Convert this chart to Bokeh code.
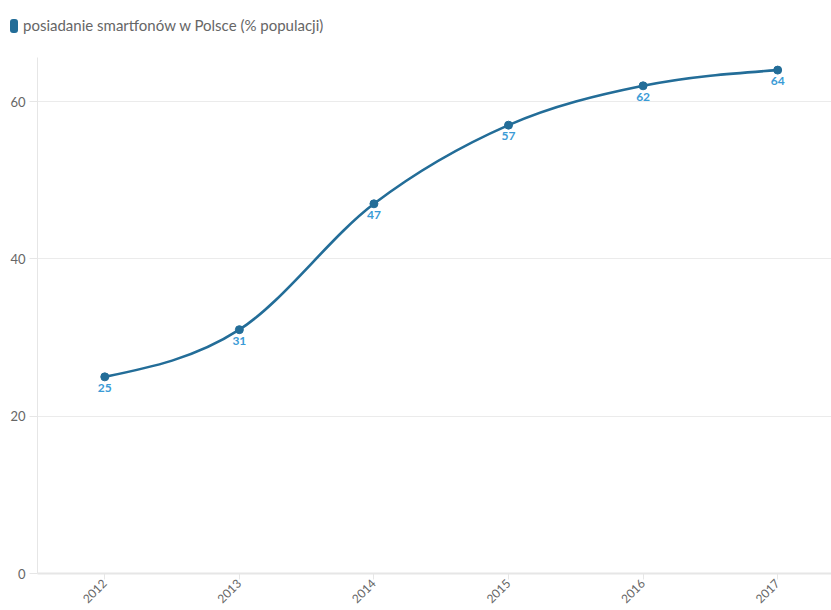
import math
from bokeh.plotting import figure
from bokeh.layouts import column
from bokeh.models import ColumnDataSource, FixedTicker, Range1d, Div
from bokeh.core.properties import value
from bokeh.embed import file_html
from bokeh.resources import INLINE

years = [2012, 2013, 2014, 2015, 2016, 2017]
share = [25, 31, 47, 57, 62, 64]
series_name = "posiadanie smartfonów w Polsce (% populacji)"
y_ticks = [0, 20, 40, 60]

LINE = "#236d98"
LABEL = "#3a9bd6"
GRID = "#ebebeb"
TXT = "#666666"
FONT = "Lato"

# monotone cubic tangents (d3 curveMonotoneX) -> bezier control points
n = len(years)
h = [years[i + 1] - years[i] for i in range(n - 1)]
s = [(share[i + 1] - share[i]) / h[i] for i in range(n - 1)]
m = [0.0] * n
for i in range(1, n - 1):
    p_ = (s[i - 1] * h[i] + s[i] * h[i - 1]) / (h[i - 1] + h[i])
    sg = (math.copysign(1, s[i - 1]) if s[i - 1] else 0) + (math.copysign(1, s[i]) if s[i] else 0)
    m[i] = sg * min(abs(s[i - 1]), abs(s[i]), 0.5 * abs(p_))
m[0] = (3 * s[0] - m[1]) / 2
m[-1] = (3 * s[-1] - m[-2]) / 2

seg = dict(x0=[], y0=[], x1=[], y1=[], cx0=[], cy0=[], cx1=[], cy1=[])
for i in range(n - 1):
    d = h[i] / 3
    seg["x0"].append(years[i]); seg["y0"].append(share[i])
    seg["x1"].append(years[i + 1]); seg["y1"].append(share[i + 1])
    seg["cx0"].append(years[i] + d); seg["cy0"].append(share[i] + d * m[i])
    seg["cx1"].append(years[i + 1] - d); seg["cy1"].append(share[i + 1] - d * m[i + 1])

legend_div = Div(
    text=(f'<div style="display:flex;align-items:center;font-family:Lato;font-size:15px;'
          f'color:{TXT};white-space:nowrap;">'
          f'<span style="display:inline-block;width:8px;height:14px;border-radius:3px;'
          f'background:{LINE};margin-right:5px;"></span>{series_name}</div>'),
    width=821, height=25, margin=(15, 0, 0, 10))

p = figure(width=831, height=570, output_backend="svg", toolbar_location=None,
           x_range=Range1d(2011.5, 2017.4), y_range=Range1d(0, 65.6),
           min_border_left=37, min_border_right=0, min_border_top=17, min_border_bottom=37)
p.margin = (0, 0, 0, 0)
p.outline_line_color = None
p.background_fill_color = "white"

p.bezier(x0="x0", y0="y0", x1="x1", y1="y1", cx0="cx0", cy0="cy0", cx1="cx1", cy1="cy1",
         source=ColumnDataSource(seg), line_color=LINE, line_width=2.6)
src = ColumnDataSource(dict(x=years, y=share, t=[str(v) for v in share]))
p.scatter("x", "y", source=src, size=8, fill_color=LINE, line_color=LINE)
p.text("x", "y", text="t", source=src, text_align="center", text_baseline="top",
       y_offset=7, text_color=LABEL, text_font=value(FONT), text_font_size="12px",
       text_font_style="bold")

# axes
p.xaxis.ticker = FixedTicker(ticks=years)
p.xaxis.major_label_orientation = math.pi / 4
p.xaxis.axis_line_color = "#e6e6e6"
p.xaxis.axis_line_width = 2
p.xaxis.major_tick_line_color = "#e6e6e6"
p.xaxis.major_tick_in = 0
p.xaxis.major_tick_out = 6
p.xaxis.minor_tick_line_color = None
p.xaxis.major_label_text_color = TXT
p.xaxis.major_label_text_font = FONT
p.xaxis.major_label_text_font_size = "12px"
p.xaxis.major_label_standoff = 2

p.yaxis.ticker = FixedTicker(ticks=y_ticks)
p.yaxis.axis_line_color = "#e6e6e6"
p.yaxis.major_tick_line_color = "#e6e6e6"
p.yaxis.major_tick_in = 0
p.yaxis.major_tick_out = 8
p.yaxis.minor_tick_line_color = None
p.yaxis.major_label_text_color = TXT
p.yaxis.major_label_text_font = FONT
p.yaxis.major_label_text_font_size = "13px"
p.yaxis.major_label_standoff = 4

p.xgrid.grid_line_color = None
p.ygrid.grid_line_color = GRID
p.ygrid.ticker = FixedTicker(ticks=y_ticks[1:])

layout = column(legend_div, p, spacing=0, margin=0)
open("out.html", "w").write(file_html(layout, INLINE))
